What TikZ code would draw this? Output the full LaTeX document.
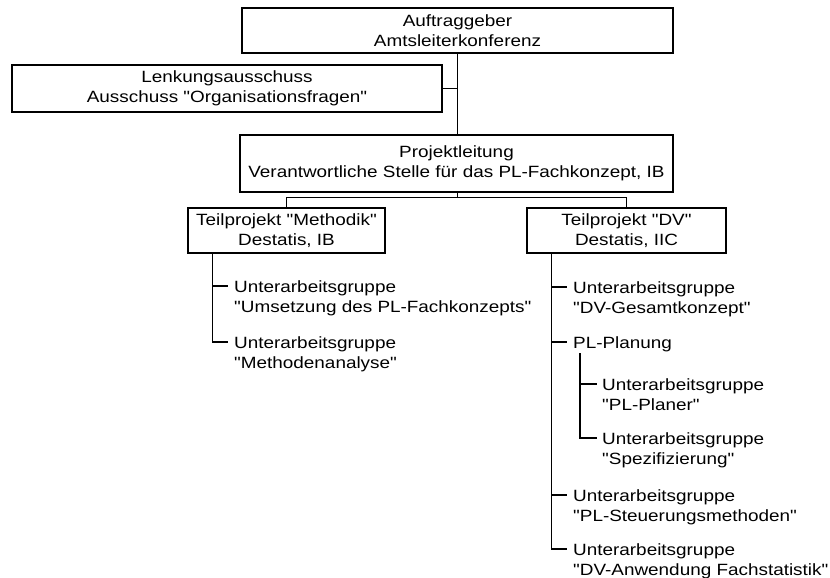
\documentclass[tikz,border=0pt]{standalone}
\usepackage{fontspec}
\setmainfont{Liberation Sans}[FakeStretch=1.16, Ligatures=TeXOff]
\newcommand\diafont{\fontsize{16.3}{20}\selectfont}
\tikzset{
  box/.style={draw, line width=1.3pt, align=center, inner sep=0pt, font=\diafont},
  item/.style={align=left, inner sep=0pt, anchor=north west, font=\diafont},
  ln/.style={line width=1.3pt}
}
\begin{document}
\begin{tikzpicture}[x=1pt,y=-1pt]
\useasboundingbox (0,0) rectangle (830,578);
% boxes
\node[box, minimum width=431pt, minimum height=45pt] (auf) at (457.5,30.5) {Auftraggeber\\Amtsleiterkonferenz};
\node[box, minimum width=430pt, minimum height=47pt] (lenk) at (227,88.5) {Lenkungsausschuss\\Ausschuss "Organisationsfragen"};
\node[box, minimum width=433pt, minimum height=57pt] (pl) at (456.5,163.5) {Projektleitung\\Verantwortliche Stelle für das PL-Fachkonzept, IB};
\node[box, minimum width=197pt, minimum height=45pt] (meth) at (286.5,230.5) {Teilprojekt "Methodik"\\Destatis, IB};
\node[box, minimum width=199pt, minimum height=45pt] (dv) at (626.5,230.5) {Teilprojekt "DV"\\Destatis, IIC};
% top connectors
\draw[ln] (auf.south) -- (auf.south |- pl.north);
\draw[ln] (lenk.east) -- (lenk.east -| auf.south);
\draw[ln] (auf.south |- pl.south) -- ++(0,5) -| (meth.north);
\draw[ln] (auf.south |- pl.south) -- ++(0,5) -| (dv.north);
% Methodik subtree
\coordinate (ms) at ([xshift=25pt]meth.south west);
\coordinate (mA) at (228,286);
\coordinate (mB) at (228,342);
\draw[ln] (ms) |- (mA);
\draw[ln] (ms) |- (mB);
\node[item] (uA) at ([xshift=6pt,yshift=6pt]mA) {Unterarbeitsgruppe\\"Umsetzung des PL-Fachkonzepts"};
\node[item] (uB) at ([xshift=6pt,yshift=6pt]mB) {Unterarbeitsgruppe\\"Methodenanalyse"};
% DV subtree
\coordinate (ds) at ([xshift=25pt]dv.south west);
\coordinate (dA) at (567,287);
\coordinate (dB) at (567,342);
\coordinate (dC) at (567,495);
\coordinate (dD) at (567,549);
\draw[ln] (ds) |- (dA);
\draw[ln] (ds) |- (dB);
\draw[ln] (ds) |- (dC);
\draw[ln] (ds) |- (dD);
\node[item] (vA) at ([xshift=6pt,yshift=6pt]dA) {Unterarbeitsgruppe\\"DV-Gesamtkonzept"};
\node[item] (plan) at ([xshift=6pt,yshift=6pt]dB) {PL-Planung};
\node[item] (vC) at ([xshift=6pt,yshift=6pt]dC) {Unterarbeitsgruppe\\"PL-Steuerungsmethoden"};
\node[item] (vD) at ([xshift=6pt,yshift=6pt]dD) {Unterarbeitsgruppe\\"DV-Anwendung Fachstatistik"};
% PL-Planung subtree
\coordinate (ps) at (580,353);
\coordinate (sA) at (597,384);
\coordinate (sB) at (597,438);
\draw[ln] (ps) |- (sA);
\draw[ln] (ps) |- (sB);
\node[item] (wA) at ([xshift=5pt,yshift=6pt]sA) {Unterarbeitsgruppe\\"PL-Planer"};
\node[item] (wB) at ([xshift=5pt,yshift=6pt]sB) {Unterarbeitsgruppe\\"Spezifizierung"};
\end{tikzpicture}
\end{document}
